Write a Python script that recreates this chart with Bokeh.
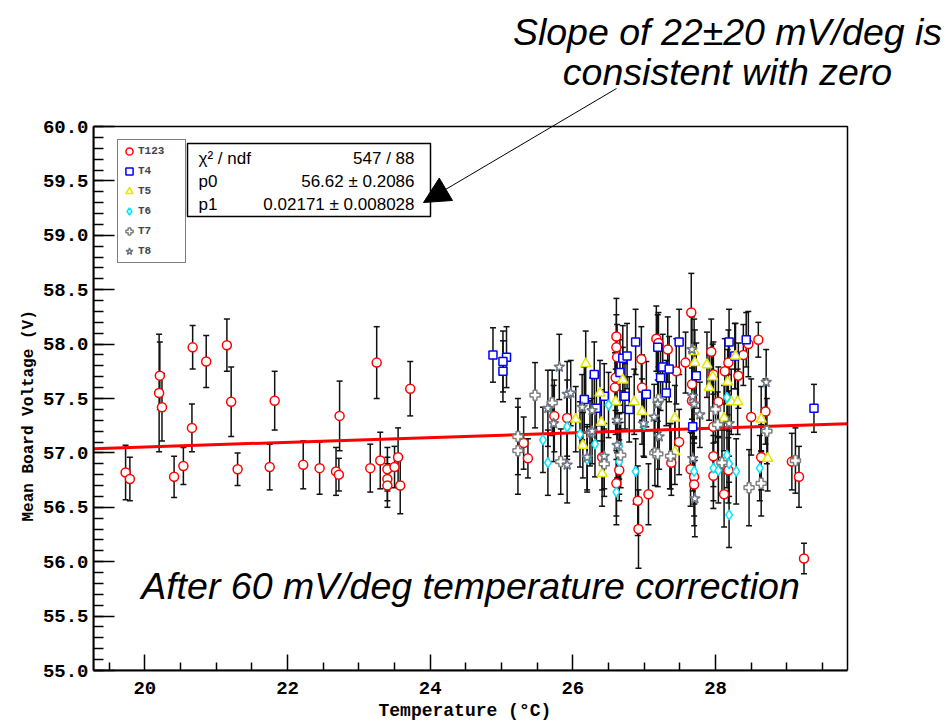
from bokeh.plotting import figure
from bokeh.models import (Range1d, FixedTicker, NumeralTickFormatter, Legend, LegendItem, Title,
                          ColumnDataSource, Whisker, TeeHead, Label, Arrow, NormalHead, BoxAnnotation)
from bokeh.embed import file_html
from bokeh.resources import INLINE

# ---------------- data ----------------
t123_x = [19.73, 19.79, 20.21, 20.20, 20.24, 20.41, 20.54, 20.66, 20.67, 20.86, 21.15, 21.21, 21.30, 21.75, 21.82,
          22.22, 22.45, 22.68, 22.72, 22.73, 23.16, 23.25, 23.30, 23.40, 23.40, 23.40, 23.50, 23.55, 23.58, 23.72,
          25.31, 25.37, 25.74, 25.92, 26.41, 26.59, 26.60, 26.61, 26.61, 26.62, 26.61, 26.65, 26.91, 26.92, 26.96,
          26.97, 27.06, 27.17, 27.20, 27.33, 27.45, 27.58, 27.66, 27.67, 27.67, 27.49, 27.38, 27.65, 27.70, 27.70,
          27.97, 27.97, 27.94, 27.97, 28.04, 27.97, 28.13, 28.18, 28.18, 28.12, 28.32, 28.39, 28.46, 28.60, 28.50,
          28.70, 28.64, 29.07, 29.17, 29.24]
t123_y = [56.82, 56.76, 57.71, 57.55, 57.42, 56.78, 56.88, 57.23, 57.97, 57.84, 57.99, 57.47, 56.85, 56.87, 57.48,
          56.89, 56.86, 56.83, 56.80, 57.34, 56.86, 57.83, 56.93, 56.85, 56.76, 56.70, 56.87, 56.96, 56.70, 57.59,
          57.09, 56.95, 57.34, 57.32, 56.96, 57.60, 57.69, 58.07, 57.97, 57.88, 56.72, 56.84, 56.56, 56.30, 57.86,
          57.60, 56.62, 58.05, 58.01, 57.95, 57.75, 57.83, 58.29, 57.63, 57.48, 57.10, 56.91, 56.85, 56.78, 56.71,
          57.24, 56.97, 57.93, 57.72, 57.47, 56.79, 57.75, 57.83, 56.84, 56.62, 57.71, 57.90, 58.00, 58.04, 57.33,
          57.38, 56.96, 56.92, 56.78, 56.03]
t123_e = [0.25, 0.20, 0.31, 0.54, 0.31, 0.19, 0.17, 0.22, 0.20, 0.24, 0.24, 0.32, 0.15, 0.21, 0.27,
          0.22, 0.24, 0.22, 0.15, 0.32, 0.22, 0.33, 0.26, 0.20, 0.20, 0.20, 0.19, 0.27, 0.26, 0.25,
          0.24, 0.18, 0.33, 0.35, 0.30, 0.32, 0.30, 0.35, 0.30, 0.30, 0.30, 0.28, 0.32, 0.36, 0.30,
          0.30, 0.28, 0.30, 0.28, 0.30, 0.30, 0.28, 0.36, 0.32, 0.30, 0.30, 0.30, 0.34, 0.36, 0.38,
          0.30, 0.28, 0.30, 0.30, 0.32, 0.30, 0.30, 0.30, 0.30, 0.30, 0.30, 0.28, 0.30, 0.16, 0.35,
          0.30, 0.30, 0.26, 0.28, 0.14]

t4_x = [24.88, 25.07, 25.02, 25.02, 26.16, 26.30, 26.33, 26.44, 26.66, 26.70, 26.76, 26.73, 26.79, 26.88,
        27.03, 27.19, 27.23, 27.26, 27.35, 27.31, 27.49, 27.68, 27.73, 28.19, 28.27, 28.43, 29.38]
t4_y = [57.90, 57.88, 57.84, 57.75, 57.49, 57.72, 57.41, 57.52, 57.74, 57.87, 57.89, 57.52, 57.40, 58.02,
        57.54, 57.97, 57.69, 57.79, 57.77, 57.55, 58.02, 57.24, 57.71, 58.02, 57.89, 58.04, 57.41]
t4_e = [0.25, 0.28, 0.28, 0.28, 0.30, 0.30, 0.30, 0.30, 0.30, 0.30, 0.30, 0.30, 0.30, 0.30,
        0.30, 0.30, 0.30, 0.30, 0.30, 0.30, 0.30, 0.30, 0.30, 0.30, 0.30, 0.25, 0.22]

t5_x = [26.04, 26.14, 26.18, 26.38, 26.40, 26.41, 26.60, 26.70, 26.86, 26.97, 27.43, 27.43, 27.70, 27.71,
        27.88, 27.91, 27.96, 28.12, 28.17, 28.22, 28.28, 28.31, 28.64, 28.73]
t5_y = [57.31, 57.07, 57.82, 57.55, 57.28, 56.81, 57.47, 57.67, 57.47, 57.38, 57.32, 57.01, 57.93, 57.83,
        57.81, 57.60, 57.70, 57.32, 57.65, 57.47, 57.89, 57.47, 57.31, 56.95]
t5_e = [0.30, 0.30, 0.30, 0.30, 0.30, 0.30, 0.30, 0.30, 0.30, 0.30, 0.30, 0.30, 0.30, 0.30,
        0.30, 0.30, 0.30, 0.30, 0.30, 0.30, 0.30, 0.30, 0.30, 0.30]

t6_x = [25.58, 25.65, 25.92, 26.10, 26.20, 26.31, 26.50, 26.61, 26.65, 26.65, 26.88, 27.00, 27.36, 27.70,
        27.97, 28.04, 28.16, 28.16, 28.19, 28.19, 28.29, 28.62]
t6_y = [57.12, 56.91, 57.24, 57.17, 56.94, 57.08, 57.44, 56.64, 56.92, 57.06, 56.83, 57.26, 56.97, 56.83,
        56.86, 56.84, 57.51, 56.98, 56.90, 56.43, 56.83, 56.86]
t6_e = [0.30, 0.30, 0.30, 0.30, 0.30, 0.30, 0.30, 0.30, 0.30, 0.30, 0.30, 0.30, 0.30, 0.30,
        0.30, 0.30, 0.30, 0.30, 0.30, 0.30, 0.30, 0.30]

t7_x = [25.23, 25.23, 25.47, 25.71, 25.83, 26.44, 26.67, 27.15, 27.19, 27.37, 27.20, 28.00, 28.03, 28.09,
        28.47, 28.64, 28.72, 29.12]
t7_y = [57.15, 57.02, 57.53, 57.46, 56.92, 56.90, 56.98, 57.00, 56.99, 56.97, 57.49, 57.40, 57.26, 56.91,
        56.68, 56.72, 57.20, 56.93]
t7_e = [0.35, 0.40, 0.30, 0.30, 0.30, 0.30, 0.30, 0.30, 0.30, 0.30, 0.30, 0.30, 0.30, 0.30,
        0.35, 0.30, 0.30, 0.30]

t8_x = [25.65, 25.73, 25.81, 25.92, 25.92, 25.97, 26.13, 26.24, 26.27, 26.27, 26.20, 26.44, 26.62, 26.62,
        26.99, 27.14, 27.19, 27.21, 27.67, 27.68, 27.70, 27.68, 27.71, 27.78, 28.19, 28.71]
t8_y = [57.41, 57.27, 57.79, 57.54, 56.89, 57.55, 57.42, 57.18, 57.39, 57.20, 56.96, 56.97, 57.07, 57.30,
        57.27, 57.33, 57.45, 57.15, 57.95, 57.52, 57.45, 56.95, 56.58, 57.35, 57.27, 57.65]
t8_e = [0.35, 0.35, 0.30, 0.30, 0.35, 0.30, 0.30, 0.30, 0.30, 0.30, 0.30, 0.30, 0.30, 0.30,
        0.30, 0.30, 0.30, 0.30, 0.30, 0.30, 0.30, 0.30, 0.35, 0.30, 0.30, 0.30]

# fit result (pol1)
fit_p0 = 56.62
fit_p1 = 0.02171
stats_rows = [("\u03c7\u00b2 / ndf", "547 / 88"),
              ("p0", "56.62 \u00b1 0.2086"),
              ("p1", "0.02171 \u00b1 0.008028")]

x_major = [20, 22, 24, 26, 28]
x_minor = [19.5, 20.5, 21, 21.5, 22.5, 23, 23.5, 24.5, 25, 25.5, 26.5, 27, 27.5, 28.5, 29, 29.5]
y_major = [55.0, 55.5, 56.0, 56.5, 57.0, 57.5, 58.0, 58.5, 59.0, 59.5, 60.0]
y_minor = [round(55.0 + 0.1 * i, 1) for i in range(51)]

# axis box (data range of the drawn frame)
X0, X1 = 19.28, 29.85
Y0, Y1 = 55.0, 60.0

# ---------------- layout (pixels) ----------------
W, H = 946, 724
BOX_L, BOX_R, BOX_T, BOX_B = 93, 847, 126, 670   # pixel edges of the ROOT frame
xs_per_px = (X1 - X0) / (BOX_R - BOX_L)
ys_per_px = (Y1 - Y0) / (BOX_B - BOX_T)
x_end = X1 + (W - BOX_R) * xs_per_px
y_end = Y1 + BOX_T * ys_per_px


def px2x(px):
    return X0 + (px - BOX_L) * xs_per_px


def py2y(py):
    return Y1 + (BOX_T - py) * ys_per_px


p = figure(width=W, height=H, output_backend="svg", toolbar_location=None,
           x_range=Range1d(X0, x_end), y_range=Range1d(Y0, y_end),
           min_border_left=BOX_L, min_border_right=0, min_border_top=0, min_border_bottom=H - BOX_B)
p.title.visible = False
p.xgrid.visible = False
p.ygrid.visible = False
p.outline_line_color = None
p.background_fill_color = "white"
p.border_fill_color = "white"

for ax in (p.xaxis[0], p.yaxis[0]):
    ax.axis_line_width = 2
    ax.axis_line_color = "black"
    ax.major_tick_out = 0
    ax.minor_tick_out = 0
    ax.major_tick_line_width = 1.5
    ax.minor_tick_line_width = 1.5
    ax.major_tick_line_color = "black"
    ax.minor_tick_line_color = "black"
    ax.major_label_text_font = "Liberation Mono"
    ax.major_label_text_font_style = "bold"
    ax.major_label_text_font_size = "19px"
    ax.major_label_text_color = "black"

p.xaxis.bounds = (X0, X1)
p.xaxis.ticker = FixedTicker(ticks=x_major, minor_ticks=x_minor)
p.xaxis.major_tick_in = 16
p.xaxis.minor_tick_in = 8
p.xaxis.major_label_standoff = 11

p.yaxis.bounds = (Y0, Y1)
p.yaxis.ticker = FixedTicker(ticks=y_major, minor_ticks=y_minor)
p.yaxis.formatter = NumeralTickFormatter(format="0.0")
p.yaxis.major_tick_in = 21
p.yaxis.minor_tick_in = 10
p.yaxis.major_label_standoff = 5

# axis titles as panel titles (so they can be placed like ROOT does)
p.add_layout(Title(text="Temperature (\u00b0C)", align="left", offset=378 - BOX_L, standoff=5,
                   text_line_height=0.9,
                   text_font="Liberation Mono", text_font_style="bold", text_font_size="18px",
                   text_color="black"), "below")
p.add_layout(Title(text="Mean Board Voltage (V)", align="left", offset=BOX_B - 521, standoff=4,
                   text_font="Liberation Mono", text_font_style="bold", text_font_size="16px",
                   text_color="black"), "left")

# ROOT-style frame box
p.add_layout(BoxAnnotation(left=X0, right=X1, bottom=Y0, top=Y1, fill_alpha=0,
                           line_color="black", line_alpha=1.0, line_width=1.5))

series = [
    ("T123", t123_x, t123_y, t123_e, "circle", "#ff0000", 9),
    ("T4", t4_x, t4_y, t4_e, "square", "#0000ff", 8),
    ("T5", t5_x, t5_y, t5_e, "triangle", "#e6e600", 10),
    ("T6", t6_x, t6_y, t6_e, "diamond", "#00e5ff", 10),
    ("T7", t7_x, t7_y, t7_e, "plus", "#808080", 10),
    ("T8", t8_x, t8_y, t8_e, "star", "#6c7682", 11),
]

# error bars
for name, xs, ys, es, mk, col, sz in series:
    src = ColumnDataSource(dict(x=xs, lower=[y - e for y, e in zip(ys, es)],
                                upper=[y + e for y, e in zip(ys, es)]))
    w = Whisker(source=src, base="x", lower="lower", upper="upper",
                line_color="#111111", line_width=1.5, level="underlay",
                lower_head=TeeHead(size=6, line_color="#111111", line_width=1.5),
                upper_head=TeeHead(size=6, line_color="#111111", line_width=1.5))
    p.add_layout(w)

# fit line
p.line([X0, X1], [fit_p0 + fit_p1 * X0, fit_p0 + fit_p1 * X1], line_color="#ff0000", line_width=3)

items = []
for name, xs, ys, es, mk, col, sz in series:
    r = p.scatter(xs, ys, marker=mk, size=sz, line_color=col, line_width=1.5,
                  fill_color="white", fill_alpha=1.0)
    items.append(LegendItem(label=name, renderers=[r]))

legend = Legend(items=items, location=(24, 407), border_line_color="black", border_line_width=1.2,
                background_fill_color="white", background_fill_alpha=1.0,
                label_text_font="Liberation Mono", label_text_font_style="bold",
                label_text_font_size="11px", glyph_width=18, glyph_height=18, label_height=18,
                label_standoff=0, label_width=45, spacing=2, padding=2, margin=0)
p.add_layout(legend)

# stats box
p.add_layout(BoxAnnotation(left=px2x(187), right=px2x(430), top=py2y(143), bottom=py2y(216),
                           fill_color="white", fill_alpha=1.0, line_color="black", line_alpha=1.0,
                           line_width=1.5))
for (lab, val), py in zip(stats_rows, [158, 181, 203.5]):
    p.add_layout(Label(x=px2x(198), y=py2y(py), text=lab, text_font="Liberation Sans",
                       text_font_size="17px", text_baseline="middle", text_align="left",
                       text_color="black"))
    p.add_layout(Label(x=px2x(414), y=py2y(py), text=val, text_font="Liberation Sans",
                       text_font_size="17px", text_baseline="middle", text_align="right",
                       text_color="black"))

# annotations
p.add_layout(Label(x=px2x(727), y=py2y(31), text="Slope of 22\u00b120 mV/deg is",
                   text_font="Liberation Sans", text_font_style="italic", text_font_size="37.5px",
                   text_align="center", text_baseline="middle", text_color="black"))
p.add_layout(Label(x=px2x(727), y=py2y(71), text="consistent with zero",
                   text_font="Liberation Sans", text_font_style="italic", text_font_size="37.5px",
                   text_align="center", text_baseline="middle", text_color="black"))
p.add_layout(Label(x=px2x(470), y=py2y(585), text="After 60 mV/deg temperature correction",
                   text_font="Liberation Sans", text_font_style="italic", text_font_size="37.5px",
                   text_align="center", text_baseline="middle", text_color="black"))
p.add_layout(Arrow(end=NormalHead(size=26, fill_color="black", line_color="black"),
                   x_start=px2x(616), y_start=py2y(88), x_end=px2x(423), y_end=py2y(202),
                   line_color="black", line_width=1))

open("out.html", "w").write(file_html(p, INLINE))
